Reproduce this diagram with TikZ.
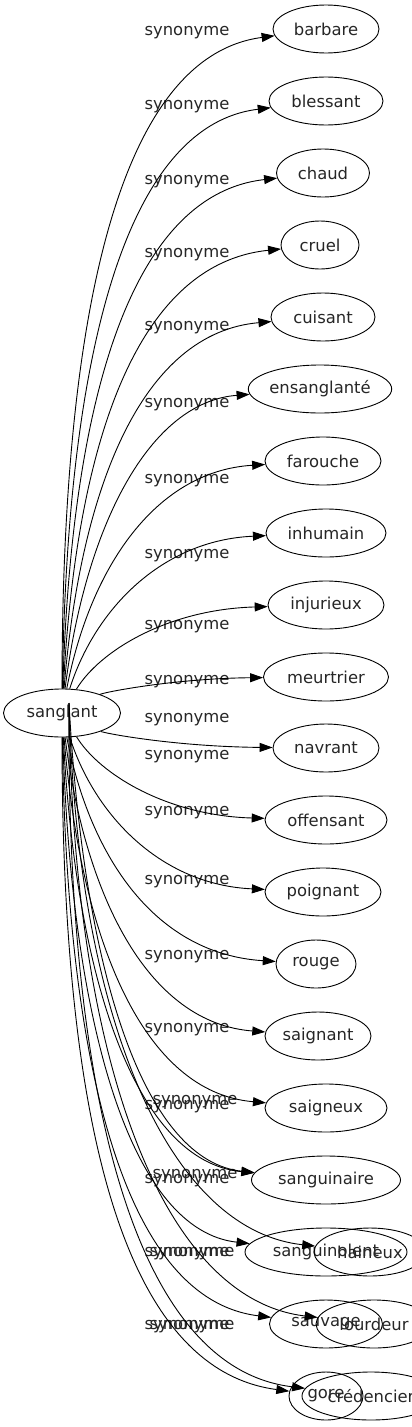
\documentclass[tikz,border=0pt]{standalone}
\usepackage{fontspec}
\setmainfont{DejaVu Sans}
\usetikzlibrary{arrows.meta,shapes.geometric}
\newcommand\synedge[5]{%
  \pgfmathsetmacro\sdy{713-#3}%
  \pgfmathsetmacro\srr{abs(\sdy)/684}%
  \pgfmathsetmacro\sax{62+45*(1-\srr)+#4}%
  \pgfmathsetmacro\say{713-0.58*\sdy}%
  \pgfmathsetmacro\sbx{118+60*(1-\srr)+#5}%
  \pgfmathsetmacro\sby{#3+0.04*\sdy}%
  \draw[syn] (#1) .. controls (\sax,\say) and (\sbx,\sby) .. (#2);%
}
\begin{document}
\begin{tikzpicture}[x=1pt,y=-1pt,
  every node/.style={font=\fontsize{16.4}{19}\selectfont, text=black!85},
  word/.style={draw=black, ellipse, line width=0.9pt, minimum height=48pt, inner sep=0pt},
  lab/.style={inner sep=0pt},
  syn/.style={-{Triangle[length=13pt,width=9pt]}, line width=0.9pt}]
\useasboundingbox (0,0) rectangle (412,1427);
\node[word, minimum width=117pt] (s) at (62,713) {sanglant};
\coordinate (sx) at (69,703);
\node[word, minimum width=106pt] (t1) at (326,29) {barbare};
\node[word, minimum width=114pt] (t2) at (326,101) {blessant};
\node[word, minimum width=93pt] (t3) at (323,173) {chaud};
\node[word, minimum width=78pt] (t4) at (320,245) {cruel};
\node[word, minimum width=104pt] (t5) at (323,317) {cuisant};
\node[word, minimum width=142pt] (t6) at (320,389) {ensanglanté};
\node[word, minimum width=116pt] (t7) at (323,461) {farouche};
\node[word, minimum width=120pt] (t8) at (326,533) {inhumain};
\node[word, minimum width=116pt] (t9) at (326,605) {injurieux};
\node[word, minimum width=125pt] (t10) at (326,677) {meurtrier};
\node[word, minimum width=106pt] (t11) at (326,748) {navrant};
\node[word, minimum width=122pt] (t12) at (326,820) {offensant};
\node[word, minimum width=116pt] (t13) at (323,892) {poignant};
\node[word, minimum width=80pt] (t14) at (316,964) {rouge};
\node[word, minimum width=106pt] (t15) at (318,1036) {saignant};
\node[word, minimum width=122pt] (t16) at (326,1108) {saigneux};
\node[word, minimum width=149pt] (t17) at (326,1180) {sanguinaire};
\node[word, minimum width=162pt] (t18) at (326,1252) {sanguinolent};
\node[word, minimum width=112pt] (u18) at (370,1252) {haineux};
\node[word, minimum width=113pt] (t19) at (326,1324) {sauvage};
\node[word, minimum width=116pt] (u19) at (374,1324) {lourdeur};
\node[word, minimum width=74pt] (t20) at (326,1396) {gore};
\node[word, minimum width=138pt] (u20) at (371,1396) {crédencier};
% labels
\foreach \i/\ly in {1/33,2/107,3/182,4/255,5/328,6/405,7/481,8/556,9/627,10/682,11/720,12/757,13/813,14/882,15/957,16/1030}
  \node[lab] (l\i) at (187,\ly) {synonyme};
\node[lab] (l17) at (187,1107) {synonyme};
\node[lab] (m17) at (195,1102) {synonyme};
\node[lab] (l18) at (187,1181) {synonyme};
\node[lab] (m18) at (195,1176) {synonyme};
\node[lab] (l19) at (187,1254) {synonyme};
\node[lab] (m19) at (192,1254) {synonyme};
\node[lab] (l20) at (187,1327) {synonyme};
\node[lab] (m20) at (192,1327) {synonyme};
% edges
\synedge{s}{t1}{29}{0}{0}
\synedge{s}{t2}{101}{0}{0}
\synedge{s}{t3}{173}{0}{0}
\synedge{s}{t4}{245}{0}{0}
\synedge{s}{t5}{317}{0}{0}
\synedge{s}{t6}{389}{0}{0}
\synedge{s}{t7}{461}{0}{0}
\synedge{s}{t8}{533}{0}{0}
\synedge{s}{t9}{605}{0}{0}
\synedge{s}{t10}{677}{0}{0}
\synedge{s}{t11}{748}{0}{0}
\synedge{s}{t12}{820}{0}{0}
\synedge{s}{t13}{892}{0}{0}
\synedge{s}{t14}{964}{0}{0}
\synedge{s}{t15}{1036}{0}{0}
\synedge{s}{t16}{1108}{0}{0}
\synedge{s}{t17}{1180}{0}{0}
\synedge{sx}{t17}{1180}{8}{10}
\synedge{s}{t18}{1252}{0}{0}
\synedge{sx}{u18}{1252}{6}{40}
\synedge{s}{t19}{1324}{0}{0}
\synedge{sx}{u19}{1324}{6}{40}
\synedge{s}{t20}{1396}{0}{0}
\synedge{sx}{u20}{1396}{4}{20}
\end{tikzpicture}
\end{document}
